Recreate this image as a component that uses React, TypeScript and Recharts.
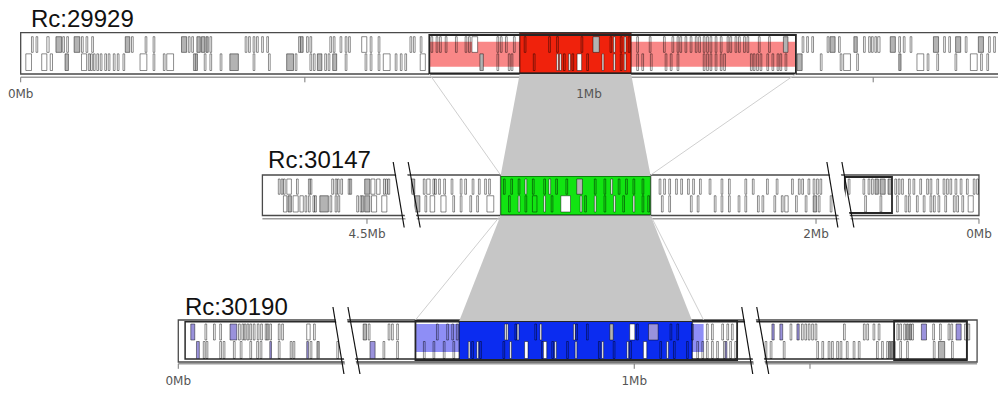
import {
  ComposedChart,
  Polygon,
  ReferenceArea,
  ReferenceDot,
  ReferenceLine,
  Scatter,
  XAxis,
  YAxis,
} from "recharts";

// gene = [start kb, end kb, glyph]  o: outline, g: grey, w: white, p: purple
type Gene = [number, number, "o" | "g" | "w" | "p"];

const trackNames = ["Rc:29929", "Rc:30147", "Rc:30190"];

const track1Top: Gene[] = [
  [19, 22, "o"], [27, 30, "o"], [46, 50, "o"], [62, 72, "g"], [74, 77, "o"], [81, 84, "o"], [94, 104, "g"],
  [107, 110, "o"], [115, 118, "o"], [125, 128, "o"], [184, 192, "g"], [195, 198, "o"], [219, 222, "o"],
  [233, 236, "o"], [283, 292, "g"], [295, 298, "o"], [301, 304, "o"], [310, 316, "g"], [318, 324, "g"],
  [326, 330, "g"], [333, 336, "o"], [395, 398, "o"], [401, 404, "o"], [409, 412, "o"], [415, 418, "o"],
  [424, 427, "o"], [433, 436, "o"], [489, 492, "o"], [492, 497, "g"], [503, 506, "o"], [509, 512, "o"],
  [544, 547, "o"], [550, 553, "o"], [562, 565, "o"], [571, 574, "o"], [577, 580, "o"], [600, 609, "o"],
  [615, 618, "o"], [629, 632, "o"], [685, 688, "o"], [691, 694, "o"], [703, 706, "o"],
  [722, 725, "o"], [731, 734, "o"], [737, 740, "o"], [747, 750, "o"], [765, 768, "o"], [782, 785, "o"],
  [788, 791, "o"], [794, 804, "w"], [838, 841, "o"], [844, 847, "o"], [853, 856, "o"], [867, 870, "o"],
  [886, 889, "o"], [929, 932, "o"], [943, 946, "o"], [986, 989, "o"], [1007, 1018, "g"], [1037, 1040, "o"],
  [1043, 1046, "w"], [1055, 1058, "o"], [1062, 1065, "w"], [1069, 1072, "o"],
  [1084, 1087, "o"], [1106, 1109, "o"], [1131, 1134, "o"], [1146, 1149, "o"], [1155, 1158, "o"],
  [1160, 1163, "o"], [1169, 1172, "o"], [1178, 1181, "o"], [1187, 1190, "o"], [1193, 1196, "o"],
  [1201, 1204, "o"], [1207, 1210, "o"], [1213, 1216, "o"], [1222, 1225, "o"], [1231, 1234, "o"],
  [1243, 1246, "o"], [1248, 1251, "o"], [1257, 1260, "o"], [1263, 1266, "o"], [1272, 1275, "o"],
  [1278, 1281, "o"], [1298, 1301, "o"], [1316, 1319, "o"], [1342, 1350, "g"],
  [1375, 1378, "o"], [1383, 1386, "o"], [1392, 1395, "o"], [1419, 1422, "o"], [1424, 1433, "g"],
  [1439, 1442, "o"], [1466, 1472, "g"], [1483, 1486, "o"], [1492, 1495, "o"], [1497, 1500, "o"],
  [1503, 1506, "o"], [1508, 1512, "o"], [1530, 1539, "g"], [1545, 1548, "o"], [1553, 1556, "o"],
  [1565, 1568, "o"], [1606, 1615, "g"], [1624, 1627, "o"], [1633, 1636, "o"], [1645, 1654, "g"],
  [1662, 1665, "o"], [1685, 1694, "g"], [1703, 1706, "o"], [1712, 1715, "o"],
];

const track1Bottom: Gene[] = [
  [9, 19, "o"], [37, 46, "o"], [52, 56, "o"], [78, 84, "g"], [107, 116, "o"], [119, 122, "o"], [123, 126, "o"],
  [128, 131, "o"], [134, 137, "o"], [140, 143, "o"], [148, 151, "o"], [154, 157, "o"], [163, 166, "o"],
  [170, 173, "o"], [180, 183, "o"], [210, 222, "o"], [233, 236, "o"], [251, 254, "o"], [257, 269, "o"],
  [304, 307, "o"], [307, 311, "g"], [323, 326, "o"], [333, 336, "o"], [351, 354, "o"], [368, 383, "g"],
  [409, 412, "o"], [436, 439, "o"], [468, 480, "g"], [483, 486, "o"], [509, 512, "o"], [515, 518, "o"],
  [522, 530, "g"], [535, 538, "o"], [541, 544, "o"], [549, 556, "g"], [571, 574, "o"], [606, 609, "o"],
  [615, 618, "o"], [629, 632, "o"], [638, 650, "o"], [659, 662, "o"], [668, 671, "o"], [676, 679, "o"],
  [703, 712, "o"], [808, 814, "g"], [838, 841, "o"], [858, 861, "o"], [863, 866, "o"],
  [902, 905, "o"], [943, 946, "w"], [948, 951, "w"], [955, 958, "o"], [964, 967, "w"], [970, 973, "o"],
  [979, 987, "w"], [996, 999, "o"], [1023, 1026, "w"], [1043, 1046, "w"], [1055, 1058, "o"], [1062, 1065, "w"],
  [1084, 1087, "o"], [1093, 1096, "o"], [1108, 1111, "o"], [1134, 1137, "o"], [1143, 1146, "o"],
  [1155, 1158, "o"], [1201, 1204, "o"], [1207, 1210, "o"], [1213, 1216, "o"], [1222, 1225, "o"],
  [1231, 1234, "o"], [1237, 1240, "o"], [1284, 1287, "o"], [1289, 1292, "o"], [1295, 1298, "o"],
  [1301, 1304, "o"], [1313, 1316, "o"], [1322, 1325, "o"], [1331, 1334, "o"], [1336, 1339, "o"],
  [1345, 1348, "o"], [1366, 1375, "g"], [1407, 1410, "o"], [1442, 1445, "o"], [1448, 1460, "o"],
  [1471, 1474, "o"], [1545, 1549, "g"], [1577, 1589, "o"], [1595, 1598, "o"], [1612, 1615, "o"],
  [1644, 1647, "o"], [1671, 1683, "o"], [1689, 1692, "o"], [1700, 1703, "o"],
];

const track2Top: Gene[] = [
  [4653, 4656, "o"], [4648, 4651, "o"], [4644, 4647, "o"], [4633, 4641, "o"], [4621, 4624, "o"],
  [4600, 4603, "o"], [4597, 4600, "o"], [4559, 4562, "o"], [4553, 4556, "o"], [4549, 4552, "o"],
  [4543, 4546, "o"], [4530, 4533, "o"], [4527, 4530, "o"], [4495, 4504, "g"], [4486, 4493, "w"],
  [4477, 4483, "o"], [4468, 4471, "o"], [4464, 4467, "o"], [4460, 4463, "o"],
  [2706, 2712, "g"], [2688, 2691, "o"], [2679, 2685, "o"], [2671, 2674, "o"], [2668, 2671, "o"],
  [2661, 2664, "o"], [2652, 2655, "o"], [2639, 2642, "o"], [2623, 2626, "o"], [2615, 2618, "o"],
  [2602, 2605, "o"], [2591, 2594, "o"], [2580, 2583, "o"], [2573, 2576, "o"],
  [2547, 2550, "o"], [2534, 2537, "o"], [2521, 2524, "o"], [2509, 2512, "w"], [2496, 2499, "o"],
  [2476, 2479, "o"], [2467, 2470, "w"], [2455, 2458, "o"], [2437, 2440, "o"], [2411, 2421, "g"],
  [2387, 2390, "o"], [2370, 2373, "o"], [2358, 2361, "w"], [2345, 2348, "o"], [2332, 2335, "o"],
  [2319, 2322, "o"], [2303, 2306, "o"],
  [2273, 2276, "o"], [2265, 2268, "o"], [2256, 2259, "o"], [2244, 2247, "o"], [2235, 2238, "o"],
  [2223, 2226, "o"], [2214, 2217, "o"], [2202, 2205, "o"], [2185, 2188, "o"], [2164, 2167, "o"],
  [2151, 2154, "o"], [2122, 2125, "o"], [2109, 2112, "o"], [2084, 2087, "o"], [2067, 2070, "o"],
  [2040, 2043, "o"], [2028, 2031, "o"], [2022, 2025, "o"], [2011, 2014, "o"], [2002, 2005, "o"],
  [1996, 1999, "o"], [1990, 1993, "o"],
  [227, 230, "o"], [201, 204, "o"], [192, 195, "o"], [186, 189, "o"], [177, 183, "g"], [165, 174, "g"],
  [154, 160, "g"], [145, 148, "o"], [139, 142, "o"], [133, 136, "o"], [121, 124, "o"], [113, 116, "o"],
  [101, 104, "o"], [89, 92, "o"], [83, 86, "o"], [71, 74, "o"], [60, 63, "o"], [54, 57, "o"],
  [48, 51, "o"], [39, 42, "o"], [30, 33, "o"], [19, 22, "o"], [7, 10, "o"], [1, 4, "o"],
];

const track2Bottom: Gene[] = [
  [4641, 4647, "o"], [4633, 4639, "g"], [4621, 4630, "o"], [4612, 4618, "o"], [4606, 4609, "o"],
  [4600, 4603, "o"], [4592, 4595, "o"], [4589, 4592, "o"], [4568, 4583, "g"], [4562, 4565, "o"],
  [4553, 4556, "o"], [4548, 4551, "o"], [4515, 4518, "o"], [4509, 4512, "o"], [4506, 4509, "o"],
  [4495, 4504, "g"], [4483, 4492, "o"], [4465, 4474, "o"],
  [2697, 2706, "g"], [2685, 2688, "o"], [2671, 2679, "o"], [2651, 2660, "o"], [2636, 2639, "o"],
  [2623, 2626, "o"], [2606, 2609, "o"], [2594, 2597, "o"], [2567, 2579, "o"],
  [2538, 2541, "o"], [2521, 2524, "w"], [2509, 2512, "o"], [2491, 2499, "o"], [2476, 2479, "w"],
  [2463, 2466, "o"], [2432, 2449, "w"], [2412, 2415, "w"], [2404, 2407, "o"], [2387, 2390, "w"],
  [2370, 2373, "o"], [2353, 2356, "w"], [2337, 2340, "o"], [2319, 2322, "w"], [2303, 2306, "o"],
  [2293, 2296, "o"],
  [2269, 2272, "o"], [2256, 2259, "o"], [2218, 2221, "o"], [2206, 2209, "o"], [2176, 2179, "o"],
  [2164, 2167, "o"], [2151, 2154, "o"], [2134, 2137, "o"], [2122, 2125, "o"], [2100, 2103, "o"],
  [2092, 2095, "o"], [2071, 2074, "o"], [2058, 2061, "o"], [2049, 2055, "o"], [2033, 2036, "o"],
  [2016, 2019, "o"], [1999, 2005, "g"], [1993, 1996, "o"], [1972, 1975, "o"],
  [198, 201, "o"], [171, 174, "o"], [142, 145, "o"], [127, 130, "o"], [121, 124, "o"], [107, 110, "o"],
  [95, 98, "o"], [83, 86, "o"], [77, 80, "o"], [69, 72, "o"], [57, 60, "o"], [42, 45, "o"],
  [36, 39, "o"], [27, 30, "o"], [10, 19, "o"],
];

const track3Top: Gene[] = [
  [22, 29, "p"], [47, 50, "o"], [62, 65, "o"], [73, 76, "o"], [91, 103, "p"], [106, 109, "o"], [112, 115, "o"],
  [116, 119, "o"], [121, 124, "o"], [126, 129, "o"], [132, 135, "o"], [139, 142, "o"], [145, 148, "o"],
  [153, 156, "o"], [156, 159, "o"], [161, 164, "o"], [176, 179, "o"], [182, 185, "o"], [226, 232, "o"],
  [238, 241, "o"],
  [523, 529, "g"], [532, 535, "o"], [567, 570, "o"], [573, 576, "o"], [582, 585, "o"], [652, 655, "o"],
  [670, 673, "o"], [679, 682, "o"], [687, 690, "o"],
  [772, 775, "w"], [775, 778, "w"], [790, 793, "o"], [794, 797, "w"], [825, 828, "o"], [834, 837, "w"],
  [893, 896, "w"], [897, 900, "o"], [916, 919, "o"], [957, 963, "g"], [992, 1001, "w"], [1004, 1007, "o"],
  [1025, 1042, "p"], [1063, 1066, "o"], [1075, 1078, "o"], [1101, 1104, "o"],
  [1127, 1130, "o"], [1136, 1139, "o"], [1154, 1157, "o"], [1163, 1166, "o"], [1171, 1174, "o"],
  [1433, 1437, "p"], [1447, 1452, "p"], [1465, 1468, "o"], [1477, 1481, "p"], [1485, 1488, "o"],
  [1491, 1494, "o"], [1497, 1500, "o"], [1503, 1506, "o"], [1509, 1512, "o"], [1559, 1562, "o"],
  [1594, 1597, "o"], [1600, 1603, "o"], [1611, 1614, "o"], [1620, 1623, "o"], [1653, 1656, "o"],
  [1658, 1661, "o"], [1665, 1668, "o"], [1670, 1673, "g"], [1675, 1678, "g"], [1679, 1682, "o"],
  [1696, 1705, "p"], [1716, 1719, "o"], [1728, 1731, "o"], [1743, 1746, "o"], [1748, 1751, "o"],
  [1757, 1766, "p"], [1772, 1775, "o"], [1778, 1781, "o"],
];

const track3Bottom: Gene[] = [
  [32, 37, "p"], [44, 47, "o"], [49, 52, "o"], [73, 76, "o"], [79, 82, "o"], [97, 100, "o"], [109, 112, "o"],
  [126, 129, "o"], [138, 141, "o"], [144, 147, "o"], [161, 164, "p"], [176, 179, "o"], [197, 200, "o"],
  [202, 205, "o"], [226, 229, "p"], [232, 235, "o"], [244, 248, "g"], [279, 282, "o"],
  [535, 544, "p"], [558, 561, "o"], [582, 585, "o"], [629, 632, "o"], [646, 649, "o"], [664, 667, "o"],
  [681, 684, "o"],
  [708, 711, "w"], [714, 717, "o"], [723, 726, "w"], [728, 731, "o"], [769, 772, "o"], [781, 784, "w"],
  [807, 813, "w"], [837, 840, "o"], [840, 846, "w"], [855, 858, "o"], [860, 863, "w"], [881, 884, "o"],
  [896, 899, "w"], [937, 940, "o"], [943, 946, "w"], [963, 966, "o"], [987, 990, "w"], [992, 995, "o"],
  [1016, 1022, "w"], [1045, 1048, "o"], [1057, 1060, "w"], [1069, 1072, "o"], [1092, 1095, "o"],
  [1110, 1113, "o"], [1119, 1122, "o"], [1127, 1130, "o"], [1136, 1139, "o"], [1145, 1148, "o"],
  [1157, 1160, "o"], [1160, 1163, "p"], [1168, 1171, "o"], [1177, 1180, "o"],
  [1421, 1424, "o"], [1430, 1433, "o"], [1453, 1456, "o"], [1512, 1515, "o"], [1521, 1524, "o"],
  [1532, 1535, "o"], [1538, 1541, "o"], [1547, 1550, "o"], [1553, 1556, "o"], [1564, 1567, "o"],
  [1576, 1579, "o"], [1585, 1588, "o"], [1617, 1620, "o"], [1626, 1629, "o"], [1635, 1638, "o"],
  [1639, 1642, "g"], [1643, 1646, "g"], [1647, 1650, "o"], [1658, 1661, "o"], [1670, 1673, "o"],
  [1717, 1720, "o"], [1726, 1737, "g"], [1749, 1752, "o"],
];

const genesTop = [track1Top, track2Top, track3Top];
const genesBottom = [track1Bottom, track2Bottom, track3Bottom];

// contig extents in kb (track 2 runs right to left)
const trackExtents = [[0, 1760], [4684, 0], [0, 1794]];
const tickKb = [[0, 500, 1000, 1500], [4500, 2500, 2000, 0], [0, 1000, 1500]];
const tickLabels = [["0Mb", "", "1Mb", ""], ["4.5Mb", "", "2Mb", "0Mb"], ["0Mb", "1Mb", ""]];

// syntenic block on each contig, listed left end first
const blockSpans = [[878, 1074], [2555, 2291], [692, 1102]];
const blockColors = ["#f0220c", "#12e412", "#0b2cf0"];
// wider neighbourhood shown as a light band
const bandSpans = [[[719, 1364]], [], [[615, 1122]]];
const bandColors = ["#f98787", "", "#8e8ef6"];
const outlineSpans = [[[719, 1364]], [[153, 236]], [[615, 1181], [1648, 1776]]];
const innerFrames = [null, null, [12, 1776]];

// trapezoids joining a block to the one on the next contig
const blockLinks = [
  { upper: 0, lower: 1, upperSpan: [878, 1074], lowerSpan: [2555, 2291] },
  { upper: 1, lower: 2, upperSpan: [2555, 2291], lowerSpan: [692, 1102] },
];
const guideLinks = [
  { upper: 0, lower: 1, from: 719, to: 2555 },
  { upper: 0, lower: 1, from: 1364, to: 2291 },
  { upper: 1, lower: 2, from: 2555, to: 615 },
  { upper: 1, lower: 2, from: 2291, to: 1122 },
];

// ---- layout ----
const WIDTH = 998;
const HEIGHT = 393;
const X_MAX = 1756; // horizontal extent in kb at the common scale
const KB_PER_PX = X_MAX / WIDTH;

type Segment = { ref: number; pos: number; dir: 1 | -1; from: number; to: number };

const TRACKS: {
  segments: Segment[];
  breaks: { seg: number; at: number }[];
  top: number;
  bottom: number;
  axisY: number;
  labelY: number;
  titleY: number;
  titleDx: number;
  band: [number, number];
  blockInset: [number, number];
  outlineInset: [number, number];
}[] = [
  {
    segments: [{ ref: 0, pos: 36.4, dir: 1, from: -10, to: 1800 }],
    breaks: [],
    top: 32.7, bottom: 74, axisY: 77.3, labelY: 98, titleY: 27, titleDx: 10.3,
    band: [9, 7.3], blockInset: [0.6, 0.7], outlineInset: [2.3, 0.7],
  },
  {
    segments: [
      { ref: 4500, pos: 645.7, dir: -1, from: 4430, to: 4700 },
      { ref: 2000, pos: 1435.8, dir: -1, from: 1950, to: 2725 },
      { ref: 0, pos: 1722.5, dir: -1, from: 0, to: 245 },
    ],
    breaks: [{ seg: 0, at: 4431 }, { seg: 1, at: 1958 }],
    top: 175, bottom: 215.5, axisY: 218.8, labelY: 237.5, titleY: 167.5, titleDx: 5.7,
    band: [4, 10], blockInset: [1, 0.5], outlineInset: [2, 2.5],
  },
  {
    segments: [
      { ref: 0, pos: 313.7, dir: 1, from: 0, to: 300 },
      { ref: 1000, pos: 1116, dir: 1, from: 500, to: 1215 },
      { ref: 1500, pos: 1425.2, dir: 1, from: 1400, to: 1800 },
    ],
    breaks: [{ seg: 0, at: 295 }, { seg: 1, at: 1212 }],
    top: 320, bottom: 362, axisY: 363.8, labelY: 384.5, titleY: 315, titleDx: 6.7,
    band: [4, 10], blockInset: [1, 2], outlineInset: [1, 2],
  },
];

const GENE_FILL = { o: "none", g: "#b3b3b3", w: "#ffffff", p: "#9a92dc" };

function onSegment(seg: Segment, kb: number) {
  return seg.pos + seg.dir * (kb - seg.ref);
}

// position of a contig coordinate on the shared horizontal axis
function place(track: number, kb: number) {
  const segs = TRACKS[track].segments;
  let best = segs[0];
  let bestDist = Infinity;
  for (const s of segs) {
    const d = kb < s.from ? s.from - kb : kb > s.to ? kb - s.to : 0;
    if (d < bestDist) {
      bestDist = d;
      best = s;
    }
  }
  return onSegment(best, kb);
}

function TextMark(props: any) {
  const { cx, cy, text, anchor, size, family, color, dx } = props;
  return (
    <text x={cx + (dx ?? 0)} y={cy} textAnchor={anchor} fontSize={size} fontFamily={family} fill={color}>
      {text}
    </text>
  );
}

export default function App() {
  const items: any[] = [];

  TRACKS.forEach((t, ti) => {
    const [e0, e1] = trackExtents[ti];
    const mid = (t.top + t.bottom) / 2;

    items.push(
      <ReferenceArea key={`box${ti}`} x1={place(ti, e0)} x2={place(ti, e1)} y1={t.top} y2={t.bottom}
        fill="#ffffff" fillOpacity={1} stroke="#4a4a4a" strokeWidth={1.3} ifOverflow="visible" />,
    );
    const inner = innerFrames[ti];
    if (inner) {
      items.push(
        <ReferenceArea key={`inner${ti}`} x1={place(ti, inner[0])} x2={place(ti, inner[1])} y1={t.top + 1.7}
          y2={t.bottom - 3} fill="none" stroke="#2a2a2a" strokeWidth={1.5} ifOverflow="visible" />,
      );
    }

    bandSpans[ti].forEach(([a, b], i) => {
      items.push(
        <ReferenceArea key={`band${ti}-${i}`} x1={place(ti, a)} x2={place(ti, b)} y1={t.top + t.band[0]}
          y2={t.bottom - t.band[1]} fill={bandColors[ti]} fillOpacity={1} stroke="none" ifOverflow="visible" />,
      );
    });

    const [b0, b1] = blockSpans[ti];
    items.push(
      <ReferenceArea key={`block${ti}`} x1={place(ti, b0)} x2={place(ti, b1)} y1={t.top + t.blockInset[0]}
        y2={t.bottom - t.blockInset[1]} fill={blockColors[ti]} fillOpacity={1} stroke="rgba(0,0,0,0.55)"
        strokeWidth={1.4} ifOverflow="visible" />,
    );

    const rows: [Gene[], number, number][] = [
      [genesTop[ti], t.top + 4, mid - 1],
      [genesBottom[ti], mid + 0.5, t.bottom - 3.5],
    ];
    rows.forEach(([genes, y1, y2], ri) => {
      genes.forEach(([s, e, kind], gi) => {
        items.push(
          <ReferenceArea key={`g${ti}-${ri}-${gi}`} x1={place(ti, s)} x2={place(ti, e)} y1={y1} y2={y2}
            fill={GENE_FILL[kind]} fillOpacity={1} stroke="rgba(0,0,0,0.45)" strokeWidth={1}
            ifOverflow="visible" />,
        );
      });
    });

    outlineSpans[ti].forEach(([a, b], i) => {
      items.push(
        <ReferenceArea key={`ol${ti}-${i}`} x1={place(ti, a)} x2={place(ti, b)} y1={t.top + t.outlineInset[0]}
          y2={t.bottom - t.outlineInset[1]} fill="none" stroke="#262626" strokeWidth={1.8}
          ifOverflow="visible" />,
      );
    });

    // ruler
    items.push(
      <ReferenceLine key={`rule${ti}`} segment={[{ x: place(ti, e0), y: t.axisY }, { x: place(ti, e1), y: t.axisY }]}
        stroke="#9c9c9c" strokeWidth={1.6} ifOverflow="visible" />,
    );
    tickKb[ti].forEach((kb, i) => {
      const x = place(ti, kb);
      items.push(
        <ReferenceLine key={`tick${ti}-${i}`} segment={[{ x, y: t.axisY }, { x, y: t.axisY + 5 }]}
          stroke="#777" strokeWidth={1} ifOverflow="visible" />,
      );
      if (tickLabels[ti][i]) {
        items.push(
          <ReferenceDot key={`tl${ti}-${i}`} x={x} y={t.labelY} r={0} ifOverflow="visible"
            shape={(p: any) => (
              <TextMark {...p} text={tickLabels[ti][i]} anchor="middle" size={12}
                family="'DejaVu Sans', sans-serif" color="#555" />
            )} />,
        );
      }
    });

    // broken-axis marks: a white gap cut through the frame, edged by two slanted strokes
    t.breaks.forEach((b, i) => {
      const c = onSegment(t.segments[b.seg], b.at);
      const yTop = t.top - 13;
      const yBot = t.bottom + 12;
      items.push(
        <ReferenceLine key={`gap${ti}-${i}`}
          segment={[{ x: c - 5.5 * KB_PER_PX, y: yTop + 8 }, { x: c + 6 * KB_PER_PX, y: yBot - 4 }]}
          stroke="#ffffff" strokeWidth={11} ifOverflow="visible" />,
      );
      const lines = [[-13, -2], [2, 14]];
      lines.forEach(([u, v], li) => {
        items.push(
          <ReferenceLine key={`brk${ti}-${i}-${li}`}
            segment={[{ x: c + u * KB_PER_PX, y: yTop }, { x: c + v * KB_PER_PX, y: yBot }]}
            stroke="#111" strokeWidth={1.2} ifOverflow="visible" />,
        );
      });
    });

    items.push(
      <ReferenceDot key={`title${ti}`} x={place(ti, e0)} y={t.titleY} r={0} ifOverflow="visible"
        shape={(p: any) => (
          <TextMark {...p} text={trackNames[ti]} anchor="start" size={24} dx={t.titleDx}
            family="'Liberation Sans', Arial, sans-serif" color="#111" />
        )} />,
    );
  });

  guideLinks.forEach((g, i) => {
    items.push(
      <ReferenceLine key={`guide${i}`}
        segment={[
          { x: place(g.upper, g.from), y: TRACKS[g.upper].bottom },
          { x: place(g.lower, g.to), y: TRACKS[g.lower].top },
        ]}
        stroke="#cfcfcf" strokeWidth={1} ifOverflow="visible" />,
    );
  });

  const linkShapes = blockLinks.map((l) => {
    const u = TRACKS[l.upper];
    const d = TRACKS[l.lower];
    return [
      { x: place(l.upper, l.upperSpan[0]), y: u.bottom },
      { x: place(l.upper, l.upperSpan[1]), y: u.bottom },
      { x: place(l.lower, l.lowerSpan[1]), y: d.top + 1 },
      { x: place(l.lower, l.lowerSpan[0]), y: d.top + 1 },
    ];
  });

  return (
    <div style={{ position: "absolute", left: 0, top: 0, width: WIDTH, height: HEIGHT, background: "#fff" }}>
      <ComposedChart width={WIDTH} height={HEIGHT} margin={{ top: 0, right: 0, bottom: 0, left: 0 }}>
        <XAxis type="number" dataKey="x" domain={[0, X_MAX]} hide allowDataOverflow />
        <YAxis type="number" dataKey="y" domain={[0, HEIGHT]} reversed hide allowDataOverflow />
        {linkShapes.map((pts, i) => (
          <Scatter
            key={`link${i}`}
            data={pts}
            isAnimationActive={false}
            legendType="none"
            shape={() => <g />}
            lineType="joint"
            line={(p: any) => <Polygon points={p.points} fill="#c6c6c6" stroke="none" />}
          />
        ))}
        {items}
      </ComposedChart>
    </div>
  );
}
